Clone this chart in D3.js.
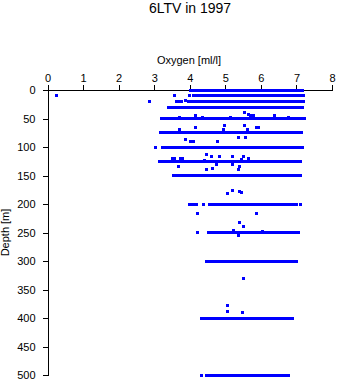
<!DOCTYPE html>
<html><head><meta charset="utf-8">
<script src="https://cdn.jsdelivr.net/npm/d3@7"></script>
<style>
html,body{margin:0;padding:0;background:#fff;}
svg{display:block;font-family:"Liberation Sans",Arial,Helvetica,sans-serif;}
</style></head>
<body><div id="chart"></div>
<script>
const title = "6LTV in 1997";
const xLabel = "Oxygen [ml/l]";
const yLabel = "Depth [m]";
const xTicks = [0,1,2,3,4,5,6,7,8];
const yTicks = [0,50,100,150,200,250,300,350,400,450,500];

// Dense runs of samples at standard depths: depth, oxygen from, oxygen to
const segDepth = [0,10,20,30,30,50,50,50,75,75,100,100,125,125,125,150,150,150,200,200,200,250,300,400,400,500,500];
const segFrom  = [4.03,4.11,3.97,3.40,3.56,3.20,3.48,6.95,3.17,7.00,3.24,6.53,3.24,6.38,6.50,3.53,3.83,4.53,3.99,4.55,6.39,4.53,4.55,4.41,5.94,4.46,6.01];
const segTo    = [7.09,7.19,7.19,3.53,7.17,3.43,6.92,7.22,6.97,7.14,6.49,7.17,6.34,6.46,7.11,3.76,4.37,7.02,4.13,6.36,7.00,6.97,6.94,5.91,6.90,5.92,6.79];

// Individual samples
const ptOxygen = [0.25,3.57,3.99,7.18,2.86,3.64,3.72,3.78,3.88,5.54,5.66,5.72,5.80,6.37,4.16,4.36,5.15,3.71,6.78,
  4.16,3.71,4.98,4.95,5.54,5.61,5.88,5.94,5.36,5.58,3.88,4.03,4.10,4.77,3.03,
  4.46,4.61,4.84,5.19,3.52,3.57,3.75,3.81,4.42,5.52,5.45,5.66,3.17,3.14,
  3.69,4.64,4.75,5.21,4.48,5.39,5.36,5.21,5.06,5.45,5.40,
  4.20,4.39,7.11,4.22,5.88,5.40,5.52,5.23,4.22,7.06,5.36,6.04,
  4.46,7.00,5.51,5.06,5.06,5.49,4.33,4.34,7.11,4.44];
const ptDepth = [10,10,10,0,21,20,20,20,18,40,43,45,44,44,44,48,48,49,49,
  65,69,63,70,63,70,66,66,84,83,87,91,91,90,100,
  114,116,116,116,121,121,120,120,123,116,122,121,125,125,
  135,137,131,131,140,135,139,176,181,180,178,
  200,200,200,216,216,232,239,246,250,250,255,248,
  300,300,330,378,388,390,400,500,150,150];

const W = 338, H = 384;
const svg = d3.select("#chart").append("svg").attr("width", W).attr("height", H);

const x = d3.scaleLinear().domain([0, 8]).range([47.5, 332]);
const y = d3.scaleLinear().domain([0, 500]).range([90, 375]);

svg.append("text").attr("x", 190).attr("y", 13).attr("text-anchor", "middle")
  .attr("font-size", 14).attr("fill", "#000").text(title);
svg.append("text").attr("x", 189).attr("y", 64).attr("text-anchor", "middle")
  .attr("font-size", 11).attr("fill", "#000").text(xLabel);
svg.append("text").attr("transform", "translate(9,232.5) rotate(-90)").attr("text-anchor", "middle")
  .attr("font-size", 11).attr("fill", "#000").text(yLabel);

const xAxis = d3.axisTop(x).tickValues(xTicks).tickFormat(d3.format("d")).tickSize(5).tickSizeOuter(0).tickPadding(3);
const gx = svg.append("g").attr("transform", "translate(0,90)").call(xAxis);
const yAxis = d3.axisLeft(y).tickValues(yTicks).tickFormat(d3.format("d")).tickSize(5).tickSizeOuter(0).tickPadding(7);
const gy = svg.append("g").attr("transform", "translate(47.5,0)").call(yAxis);
[gx, gy].forEach(g => {
  g.selectAll("path,line").attr("stroke", "#000").attr("stroke-width", 1).attr("shape-rendering", "crispEdges");
  g.selectAll("text").attr("font-size", 11).attr("fill", "#000")
    .attr("font-family", "'Liberation Sans',Arial,Helvetica,sans-serif");
});

const segs = segDepth.map((d, i) => ({d, a: segFrom[i], b: segTo[i]}));
svg.append("g").selectAll("rect").data(segs).join("rect")
  .attr("x", s => x(s.a) - 1.5).attr("y", s => y(s.d) - 1.5)
  .attr("width", s => x(s.b) - x(s.a) + 3).attr("height", 3)
  .attr("fill", "#0000ff").attr("shape-rendering", "crispEdges");

const pts = ptOxygen.map((o, i) => ({o, d: ptDepth[i]}));
svg.append("g").selectAll("rect").data(pts).join("rect")
  .attr("x", p => x(p.o) - 1.5).attr("y", p => y(p.d) - 1.5)
  .attr("width", 3).attr("height", 3)
  .attr("fill", "#0000ff").attr("shape-rendering", "crispEdges");
</script></body></html>
